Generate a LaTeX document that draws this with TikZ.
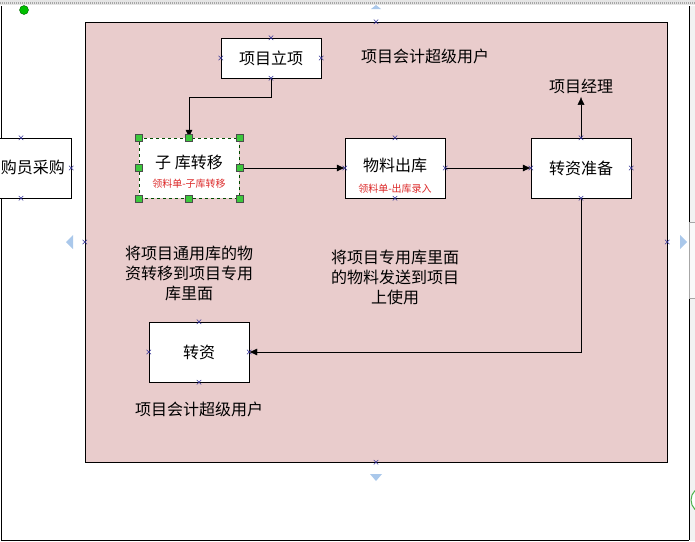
\documentclass[tikz,border=0pt]{standalone}
\usepackage{fontspec}
\newfontfamily\cjk{Noto Sans CJK SC}
\usepackage{xcolor}
\usepackage{tikz}
\usetikzlibrary{
	arrows.meta,
	positioning,
	shapes.misc,
	shapes.geometric
}
\definecolor{PinkBg}{RGB}{233,204,204}
\definecolor{MarkBlue}{RGB}{50,50,150}
\definecolor{HandleGreen}{RGB}{60,200,60}
\definecolor{GuideBlue}{RGB}{170,200,235}
\definecolor{NoteRed}{RGB}{220,40,40}

\tikzset{
	box/.style={draw,fill=white,minimum width=100pt,minimum height=60pt,inner sep=0pt},
	cmark/.style={cross out,draw=MarkBlue,minimum size=4pt,inner sep=0pt,line width=0.5pt},
	handle/.style={rectangle,draw=black!70,fill=HandleGreen,minimum size=7pt,inner sep=0pt},
	note/.style={text=NoteRed,font=\cjk\fontsize{10}{12}\selectfont},
	arr/.style={-{Latex[length=8pt,width=7pt]}}
}

\begin{document}
\begin{tikzpicture}[x=1pt,y=-1pt,font=\cjk\fontsize{16}{20}\selectfont]
		\useasboundingbox (0,0) rectangle (695,541);
		\fill[gray!20] (0,0) rectangle (695,5);
		\draw[gray!70,line width=2pt,dash pattern=on 1pt off 1pt] (0,2.5)--(695,2.5);
		\fill[gray!10] (690,6) rectangle (695,541);
		\draw (1,6)--(1,540)--(689,540);
		\draw (689,6)--(689,540);
		\draw[gray!70,fill=gray!5] (689,222) rectangle (697,298);
		\draw[green!40!gray,fill=white,line width=1pt] (704,500) circle(13);
		\node[circle,draw=green!40!black,fill=green!75!black,minimum size=9pt,inner sep=0pt] (dot) at (24,10) {};
		\node[draw,fill=PinkBg,minimum width=582pt,minimum height=440pt,inner sep=0pt] (area) at (376,242) {};
		\fill[GuideBlue] (73,235)--(66,242)--(73,249)--cycle;
		\fill[GuideBlue] (680,235)--(687,242)--(680,249)--cycle;
		\fill[GuideBlue] (370,474)--(382,474)--(376,481)--cycle;
		\fill[GuideBlue] (371,9)--(381,9)--(376,5)--cycle;
		\node[box,minimum height=40pt] (lx) at (271,58) {项目立项};
		\node[box] (buy) at (21,168) {};
		\node (buyt) at (33,167) {购员采购};
		\node[box,draw=green!30!black,dashed] (zk) at (189,168) {};
		\node[box] (wl) at (395,168) {};
		\node[box] (zz) at (581,168) {转资准备};
		\node[box] (zs) at (199,352) {转资};
		\node (zkt) at (189,162) {子\ 库转移};
		\node[note] (zkn) at (189,184) {领料单-子库转移};
		\node (wlt) at (395,165) {物料出库};
		\node[note] (wln) at (395,189) {领料单-出库录入};
		\node (acct1) at (425,56) {项目会计超级用户};
		\node (pm) at (581,86) {项目经理};
		\node[align=center] (desc1) at (189,273) {将项目通用库的物\\资转移到项目专用\\库里面};
		\node[align=center] (desc2) at (395,277) {将项目专用库里面\\的物料发送到项目\\上使用};
		\node (acct2) at (199,409) {项目会计超级用户};
		\draw[arr] (lx.south)--++(0,19)-|(zk.north);
		\draw[arr] (zk.east)--(wl.west);
		\draw[arr] (wl.east)--(zz.west);
		\draw[arr] (zz.north)--(pm.south);
		\draw[arr] (zz.south)|-(zs.east);
		\foreach \b in {lx,buy,wl,zz,zs,area}
			\foreach \a in {north,south,east,west}
				\node[cmark] (m-\b-\a) at (\b.\a) {};
		\foreach \a/\n in {north/n,south/s,east/e,west/w,north east/ne,north west/nw,south east/se,south west/sw}
			\node[handle] (h-\n) at (zk.\a) {};
	\end{tikzpicture}
\end{document}
